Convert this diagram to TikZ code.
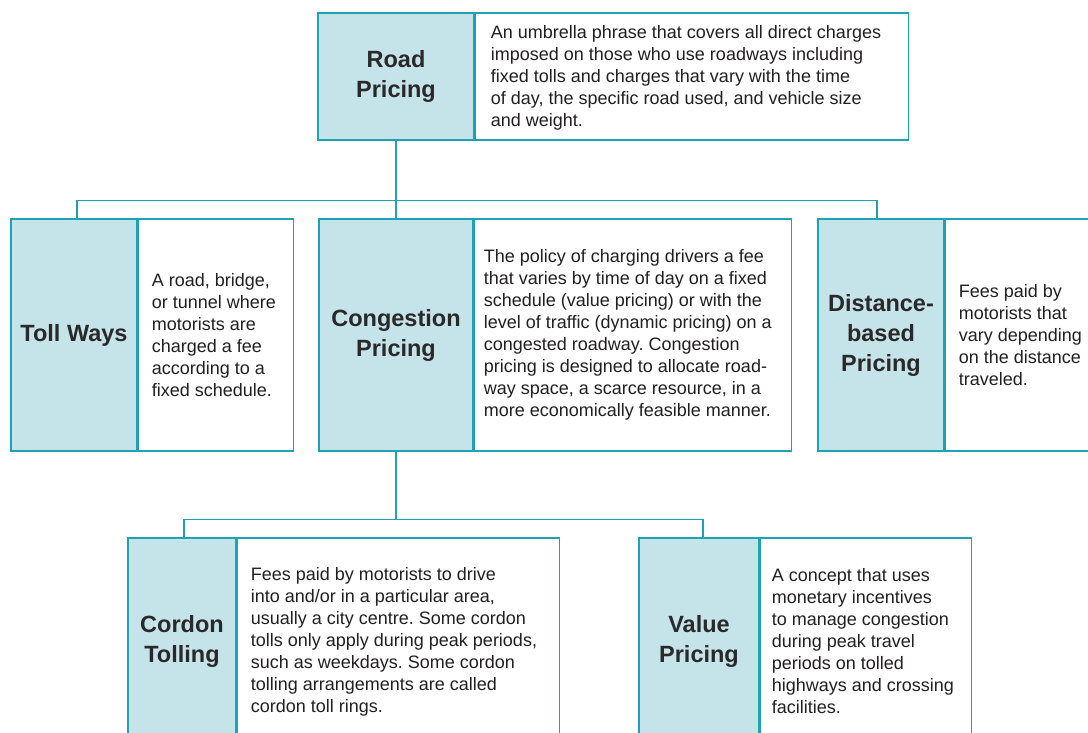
\documentclass[tikz,border=0pt]{standalone}
\usepackage{fontspec}
\setmainfont{Liberation Sans}
\definecolor{tealline}{HTML}{1FA3B4}
\definecolor{lightblue}{HTML}{C5E4EA}
\definecolor{ink}{HTML}{231F20}
\definecolor{titleink}{HTML}{2B2829}
\frenchspacing
\begin{document}
\begin{tikzpicture}[x=1pt,y=-1pt,
  titlebox/.style={draw=tealline, fill=lightblue, line width=1.4pt, inner sep=0pt,
    align=center, text=titleink, font=\bfseries\fontsize{23.5}{30}\selectfont},
  descbox/.style={draw=tealline, fill=white, line width=1.4pt, inner sep=0pt, anchor=west},
  desctext/.style={anchor=west, inner sep=0pt, align=left, text=ink,
    font=\frenchspacing\fontsize{18}{22}\selectfont},
  link/.style={draw=tealline, line width=1.4pt}]
\useasboundingbox (0,0) rectangle (1088,733);
\clip (0,0) rectangle (1088,733);
\fill[white] (0,0) rectangle (1088,733);

% Road Pricing
\node[titlebox, minimum width=156pt, minimum height=127pt] (road) at (396,76.5) {Road\\Pricing};
\node[descbox, minimum width=433pt, minimum height=127pt] (roadd) at (road.east) {};
\node[desctext] (roadt) at ([xshift=16pt,yshift=-1pt]roadd.west) {An umbrella phrase that covers all direct charges\\imposed on those who use roadways including\\fixed tolls and charges that vary with the time\\of day, the specific road used, and vehicle size\\and weight.};

% Toll Ways
\node[titlebox, minimum width=126pt, minimum height=232pt] (toll) at (74,335) {Toll Ways};
\node[descbox, minimum width=155pt, minimum height=232pt] (tolld) at (toll.east) {};
\node[desctext] (tollt) at ([xshift=14pt]tolld.west) {A road, bridge,\\or tunnel where\\motorists are\\charged a fee\\according to a\\fixed schedule.};

% Congestion Pricing
\node[titlebox, minimum width=154pt, minimum height=232pt] (cong) at (396,335) {Congestion\\Pricing};
\node[descbox, minimum width=317pt, minimum height=232pt] (congd) at (cong.east) {};
\node[desctext] (congt) at ([xshift=10pt]congd.west) {The policy of charging drivers a fee\\that varies by time of day on a fixed\\schedule (value pricing) or with the\\level of traffic (dynamic pricing) on a\\congested roadway. Congestion\\pricing is designed to allocate road-\\way space, a scarce resource, in a\\more economically feasible manner.};

% Distance-based Pricing
\node[titlebox, minimum width=126pt, minimum height=232pt] (dist) at (881,335) {Distance-\\based\\Pricing};
\node[descbox, minimum width=160pt, minimum height=232pt] (distd) at (dist.east) {};
\node[desctext] (distt) at ([xshift=14pt]distd.west) {Fees paid by\\motorists that\\vary depending\\on the distance\\traveled.};

% Cordon Tolling
\node[titlebox, minimum width=108pt, minimum height=207pt] (cordon) at (182,641.5) {Cordon\\Tolling};
\node[descbox, minimum width=322pt, minimum height=207pt] (cordond) at (cordon.east) {};
\node[desctext] (cordont) at ([xshift=14pt]cordond.west) {Fees paid by motorists to drive\\into and/or in a particular area,\\usually a city centre. Some cordon\\tolls only apply during peak periods,\\such as weekdays. Some cordon\\tolling arrangements are called\\cordon toll rings.};

% Value Pricing
\node[titlebox, minimum width=120pt, minimum height=207pt] (value) at (699,641.5) {Value\\Pricing};
\node[descbox, minimum width=211pt, minimum height=207pt] (valued) at (value.east) {};
\node[desctext] (valuet) at ([xshift=12pt]valued.west) {A concept that uses\\monetary incentives\\to manage congestion\\during peak travel\\periods on tolled\\highways and crossing\\facilities.};

% connectors
\path (road.south) ++(0,60) coordinate (j1);
\path (cong.south) ++(0,68) coordinate (j2);
\draw[link] (road.south) -- (cong.north);
\draw[link] ([xshift=3pt]toll.north) |- (j1) -| ([xshift=-4pt]dist.north);
\draw[link] (cong.south) -- (j2);
\draw[link] ([xshift=2pt]cordon.north) |- (j2) -| ([xshift=4pt]value.north);
\end{tikzpicture}
\end{document}
